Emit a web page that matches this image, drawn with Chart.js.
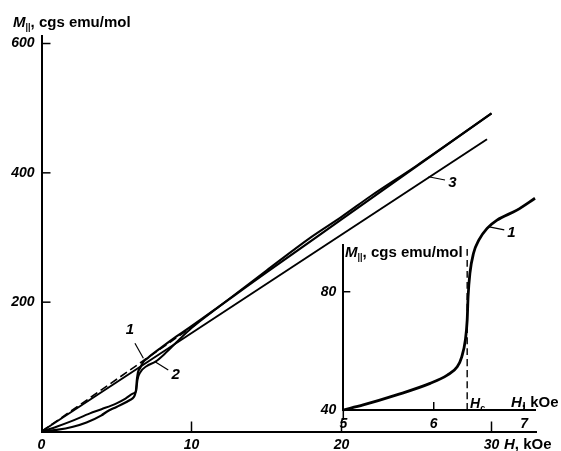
<!DOCTYPE html>
<html lang="en">
<head>
<meta charset="UTF-8">
<title>M vs H</title>
<script src="https://cdn.jsdelivr.net/npm/chart.js"></script>
<style>
    body { margin: 0; background: #fff; }
    #wrap {
        position: relative;
        width: 561px;
        height: 451px;
        font-family: "Liberation Sans", Arial, sans-serif;
    }
    #wrap canvas { position: absolute; }
    .lbl {
        position: absolute;
        font-size: 15px;
        font-weight: bold;
        line-height: 1;
        white-space: nowrap;
        color: #000;
    }
    .lbl sub { font-size: 9px; vertical-align: -3px; }
</style>
</head>
<body>
<div id="wrap">
    <canvas id="main" width="561" height="451" style="left:0;top:0"></canvas>
    <canvas id="inset" width="261" height="271" style="left:300px;top:180px"></canvas>
    <div class="lbl" style="left:13px;top:14px"><i>M</i><sub>||</sub>, cgs emu/mol</div>
    <div class="lbl" style="left:504px;top:436px"><i>H</i>, kOe</div>
    <div class="lbl" style="left:345px;top:244px"><i>M</i><sub>||</sub>, cgs emu/mol</div>
    <div class="lbl" style="left:511px;top:394px"><i>H</i>, kOe</div>
    <div class="lbl" style="left:470px;top:396px;font-size:14px"><i>H</i><sub>c</sub></div>
</div>
<script>
    // main panel: magnetisation vs field, kOe / cgs emu/mol
    const dashH = [0, 10.3];
    const dashM = [0, 166];

    const line3H = [0, 29.7];
    const line3M = [0, 452];

    const curve1H = [0, 1, 2.1, 3, 4, 4.35, 5, 5.9, 6.15, 6.23, 6.3, 6.35, 6.4, 6.45, 6.57, 6.8, 7.1, 8, 9, 10, 15, 20, 25, 30];
    const curve1M = [0, 2.5, 7.4, 14, 25, 30.6, 38, 48.7, 53, 57, 64, 78, 87, 93, 98, 108, 114, 130, 147, 163, 246, 328, 410, 492];

    const curve2H = [0, 1, 2, 3.23, 4, 5, 5.6, 6.12, 6.3, 6.35, 6.4, 6.6, 7, 7.6, 8.3, 9, 10, 12, 15, 18, 20, 22, 25, 30];
    const curve2M = [0, 7.4, 16, 28, 34.5, 43.6, 51, 59, 62, 70, 80, 92, 101, 108, 122, 138, 160, 196, 249, 301, 332, 365, 411, 492];

    const mainXTicks = [0, 10, 20, 30];
    const mainYTicks = [200, 400, 600];

    // inset: curve 1 around the transition
    const insetH = [5, 5.22, 5.59, 5.96, 6.15, 6.26, 6.31, 6.35, 6.37, 6.38, 6.40, 6.44, 6.50, 6.59, 6.70, 6.92, 7.12];
    const insetM = [40, 41.7, 45.1, 49, 51.8, 54.6, 58, 63.7, 70.4, 78.3, 86.2, 93, 97.5, 101.4, 104.2, 107.6, 111.6];
    const hc = 6.37;

    const insetXTicks = [5, 6, 7];
    const insetYTicks = [40, 80];

    const pts = (xs, ys) => xs.map((v, i) => ({ x: v, y: ys[i] }));

    const tickFont = { family: '"Liberation Sans", Arial, sans-serif', size: 14, style: 'italic', weight: 'bold' };

    // inward tick marks + numbered leaders, all placed through the scales
    const marks = {
        id: 'marks',
        afterDraw(chart, args, opts) {
            const { ctx, chartArea: a, scales: { x, y } } = chart;
            ctx.save();
            ctx.strokeStyle = '#000';
            ctx.fillStyle = '#000';
            ctx.lineWidth = 1.5;
            (opts.xTicks || []).forEach(([v, len]) => {
                const px = x.getPixelForValue(v);
                ctx.beginPath();
                ctx.moveTo(px, a.bottom);
                ctx.lineTo(px, a.bottom - len);
                ctx.stroke();
            });
            (opts.yTicks || []).forEach(([v, len]) => {
                const py = y.getPixelForValue(v);
                ctx.beginPath();
                ctx.moveTo(a.left, py);
                ctx.lineTo(a.left + len, py);
                ctx.stroke();
            });
            ctx.font = 'italic bold 15px "Liberation Sans", Arial, sans-serif';
            ctx.textAlign = 'center';
            ctx.textBaseline = 'middle';
            ctx.lineWidth = 1.2;
            (opts.notes || []).forEach(n => {
                ctx.beginPath();
                ctx.moveTo(x.getPixelForValue(n.from[0]), y.getPixelForValue(n.from[1]));
                ctx.lineTo(x.getPixelForValue(n.to[0]), y.getPixelForValue(n.to[1]));
                ctx.stroke();
                ctx.fillText(n.text, x.getPixelForValue(n.at[0]), y.getPixelForValue(n.at[1]));
            });
            ctx.restore();
        }
    };

    function solid(data, w) {
        return { data, borderColor: '#000', borderWidth: w, pointRadius: 0, fill: false, cubicInterpolationMode: 'monotone', clip: false };
    }

    new Chart(document.getElementById('main'), {
        type: 'line',
        data: {
            datasets: [
                Object.assign(solid(pts(dashH, dashM), 1.6), { borderDash: [8, 4] }),
                solid(pts(line3H, line3M), 2),
                solid(pts(curve2H, curve2M), 2),
                solid(pts(curve1H, curve1M), 2.2)
            ]
        },
        options: {
            responsive: false,
            animation: false,
            layout: { padding: { left: 0, right: 24.5, top: 36.4, bottom: 0 } },
            plugins: {
                legend: { display: false },
                tooltip: { enabled: false },
                marks: {
                    xTicks: [[10, 10], [20, 10], [30, 10]],
                    yTicks: [[200, 9], [400, 9], [600, 9]],
                    notes: [
                        { text: '1', at: [5.9, 157], from: [6.23, 136.4], to: [6.79, 113.2] },
                        { text: '2', at: [8.95, 87], from: [8.45, 95], to: [7.57, 107.9] },
                        { text: '3', at: [27.4, 385], from: [26.9, 388.9], to: [25.8, 394] }
                    ]
                }
            },
            scales: {
                x: {
                    type: 'linear', min: 0, max: 33,
                    afterBuildTicks: s => { s.ticks = mainXTicks.map(v => ({ value: v })); },
                    afterFit: s => { s.height = 19.5; },
                    grid: { display: true, drawOnChartArea: false, drawTicks: false },
                    border: { display: true, color: '#000', width: 2 },
                    ticks: { color: '#000', font: tickFont, padding: 5, maxRotation: 0 }
                },
                y: {
                    type: 'linear', min: 0, max: 611,
                    afterBuildTicks: s => { s.ticks = mainYTicks.map(v => ({ value: v })); },
                    afterFit: s => { s.width = 41.5; },
                    grid: { display: true, drawOnChartArea: false, drawTicks: false },
                    border: { display: true, color: '#000', width: 2 },
                    ticks: { color: '#000', font: tickFont, padding: 7 }
                }
            }
        },
        plugins: [marks]
    });

    new Chart(document.getElementById('inset'), {
        type: 'line',
        data: {
            datasets: [
                Object.assign(solid([{ x: hc, y: 40 }, { x: hc, y: 95.8 }], 1.4), { borderDash: [7, 4] }),
                solid(pts(insetH, insetM), 2.8)
            ]
        },
        options: {
            responsive: false,
            animation: false,
            layout: { padding: { left: 0, right: 26, top: 65, bottom: 21 } },
            plugins: {
                legend: { display: false },
                tooltip: { enabled: false },
                marks: {
                    xTicks: [[5, -10], [6, 8], [7, 8]],
                    yTicks: [[80, 7]],
                    notes: [
                        { text: '1', at: [6.86, 100], from: [6.78, 100.9], to: [6.6, 102] }
                    ]
                }
            },
            scales: {
                x: {
                    type: 'linear', min: 5, max: 7.12,
                    afterBuildTicks: s => { s.ticks = insetXTicks.map(v => ({ value: v })); },
                    afterFit: s => { s.height = 20; },
                    grid: { display: true, drawOnChartArea: false, drawTicks: false },
                    border: { display: true, color: '#000', width: 2 },
                    ticks: { color: '#000', font: tickFont, padding: 6, maxRotation: 0 }
                },
                y: {
                    type: 'linear', min: 40, max: 95.8,
                    afterBuildTicks: s => { s.ticks = insetYTicks.map(v => ({ value: v })); },
                    afterFit: s => { s.width = 43.3; },
                    grid: { display: true, drawOnChartArea: false, drawTicks: false },
                    border: { display: true, color: '#000', width: 2 },
                    ticks: { color: '#000', font: tickFont, padding: 7 }
                }
            }
        },
        plugins: [marks]
    });
</script>
</body>
</html>
